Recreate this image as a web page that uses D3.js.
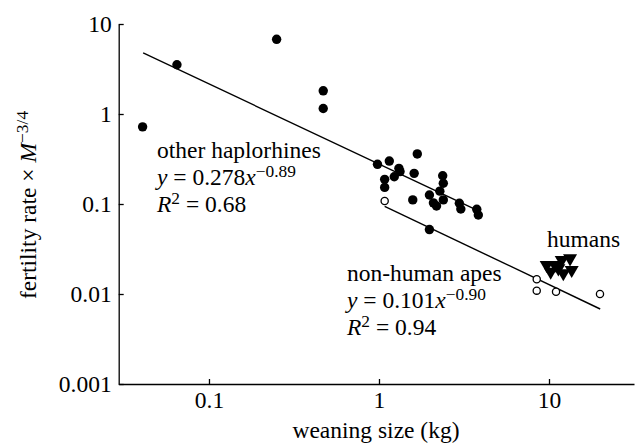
<!DOCTYPE html>
<html>
<head>
<meta charset="utf-8">
<script src="https://cdn.jsdelivr.net/npm/d3@7"></script>
<style>
html,body{margin:0;padding:0;background:#fff;}
svg{display:block;}
</style>
</head>
<body>
<svg id="chart" width="638" height="444"></svg>
<script>
// ---- data ----
const haploX = [0.0407,0.0648,0.25,0.47,0.47,0.98,1.15,1.68,1.31,1.33,1.23,1.08,1.08,1.61,2.37,2.39,2.28,1.98,1.58,2.09,2.18,2.39,1.98,2.97,3.03,3.76,3.84];
const haploY = [0.72,3.53,6.76,1.81,1.15,0.276,0.30,0.36,0.249,0.229,0.201,0.188,0.153,0.219,0.206,0.17,0.139,0.126,0.111,0.103,0.095,0.111,0.052,0.102,0.088,0.0873,0.0755];
const apeX = [1.08,8.47,8.47,11.0,19.95];
const apeY = [0.108,0.01456,0.0109,0.0106,0.0100];
const humanX = [9.69,10.85,11.88,13.3,10.23,11.35,12.14,13.6];
const humanY = [0.0210,0.0210,0.0239,0.0249,0.0177,0.0193,0.0170,0.0185];
const haploFit = {a:0.278, b:-0.89, from:0.041, to:3.82};
const apeFit = {a:0.101, b:-0.90, from:1.08, to:20};
const xTicks = [0.1,1,10];
const yTicks = [0.001,0.01,0.1,1,10];
const xTickLabels = ["0.1","1","10"];
const yTickLabels = ["0.001","0.01","0.1","1","10"];

// ---- drawing ----
const FONT = "'Liberation Serif','Times New Roman',serif";
const svg = d3.select("#chart");
const FS = 23.5;
const x = d3.scaleLog().domain([Math.pow(10,-1.531), Math.pow(10,1.5)]).range([118.7, 634]);
const y = d3.scaleLog().domain([0.001, 10]).range([384, 24]);

const xAxis = d3.axisBottom(x).tickValues(xTicks).tickSizeInner(-5).tickSizeOuter(0).tickPadding(7)
  .tickFormat((d,i)=>xTickLabels[i]);
const yAxis = d3.axisLeft(y).tickValues(yTicks).tickSizeInner(-5).tickSizeOuter(0).tickPadding(7)
  .tickFormat((d,i)=>yTickLabels[i]);

const gx = svg.append("g").attr("transform","translate(0,384)").call(xAxis);
const gy = svg.append("g").attr("transform","translate(118.7,0)").call(yAxis);
[gx,gy].forEach(g=>{
  g.attr("font-family",FONT).attr("font-size",FS);
  g.selectAll("text").attr("font-family",FONT).attr("font-size",FS).attr("fill","#000");
  g.selectAll("path,line").attr("stroke","#000").attr("stroke-width",1.3);
});

// fit lines
function fitLine(f){
  const pts = [f.from, f.to].map(v=>[x(v), y(f.a*Math.pow(v,f.b))]);
  svg.append("line").attr("x1",pts[0][0]).attr("y1",pts[0][1]).attr("x2",pts[1][0]).attr("y2",pts[1][1])
    .attr("stroke","#000").attr("stroke-width",1.4);
}
fitLine(haploFit);
fitLine(apeFit);

// haplorhines filled
svg.append("g").selectAll("circle").data(d3.zip(haploX,haploY)).join("circle")
  .attr("cx",d=>x(d[0])).attr("cy",d=>y(d[1])).attr("r",4.7).attr("fill","#000");
// apes open
svg.append("g").selectAll("circle").data(d3.zip(apeX,apeY)).join("circle")
  .attr("cx",d=>x(d[0])).attr("cy",d=>y(d[1])).attr("r",3.6).attr("fill","#fff").attr("stroke","#000").attr("stroke-width",1.3);
// humans triangles (down)
const tri = d3.symbol().type(d3.symbolTriangle).size(85);
svg.append("g").selectAll("path").data(d3.zip(humanX,humanY)).join("path")
  .attr("d",tri).attr("transform",d=>`translate(${x(d[0])},${y(d[1])}) rotate(180)`).attr("fill","#000");

// text helper: parts = [{t, i(italic), sup}]
function rich(g, px, py, parts, anchor){
  const t = g.append("text").attr("x",px).attr("y",py)
    .attr("font-family",FONT).attr("font-size",FS).attr("fill","#000");
  if(anchor) t.attr("text-anchor",anchor);
  let raised=false;
  parts.forEach(p=>{
    const s = t.append("tspan").text(p.t);
    if(p.i) s.attr("font-style","italic");
    if(p.sup){ s.attr("font-size",FS*0.74); if(!raised){s.attr("dy",-8); raised=true;} }
    else if(raised){ s.attr("dy",8); raised=false; }
  });
  return t;
}
const ann = svg.append("g");
rich(ann,157,158,[{t:"other haplorhines"}]);
rich(ann,157,185,[{t:"y",i:1},{t:" = 0.278"},{t:"x",i:1},{t:"−0.89",sup:1}]);
rich(ann,157,212,[{t:"R",i:1},{t:"2",sup:1},{t:" = 0.68"}]);
rich(ann,347,281,[{t:"non-human apes"}]);
rich(ann,347,308,[{t:"y",i:1},{t:" = 0.101"},{t:"x",i:1},{t:"−0.90",sup:1}]);
rich(ann,347,335,[{t:"R",i:1},{t:"2",sup:1},{t:" = 0.94"}]);
rich(ann,547,247,[{t:"humans"}]);

// axis titles
rich(svg,376,438,[{t:"weaning size (kg)"}],"middle");
const yl = svg.append("g").attr("transform","translate(36,205) rotate(-90)");
rich(yl,0,0,[{t:"fertility rate × "},{t:"M",i:1},{t:"−3/4",sup:1}],"middle");
</script>
</body>
</html>
